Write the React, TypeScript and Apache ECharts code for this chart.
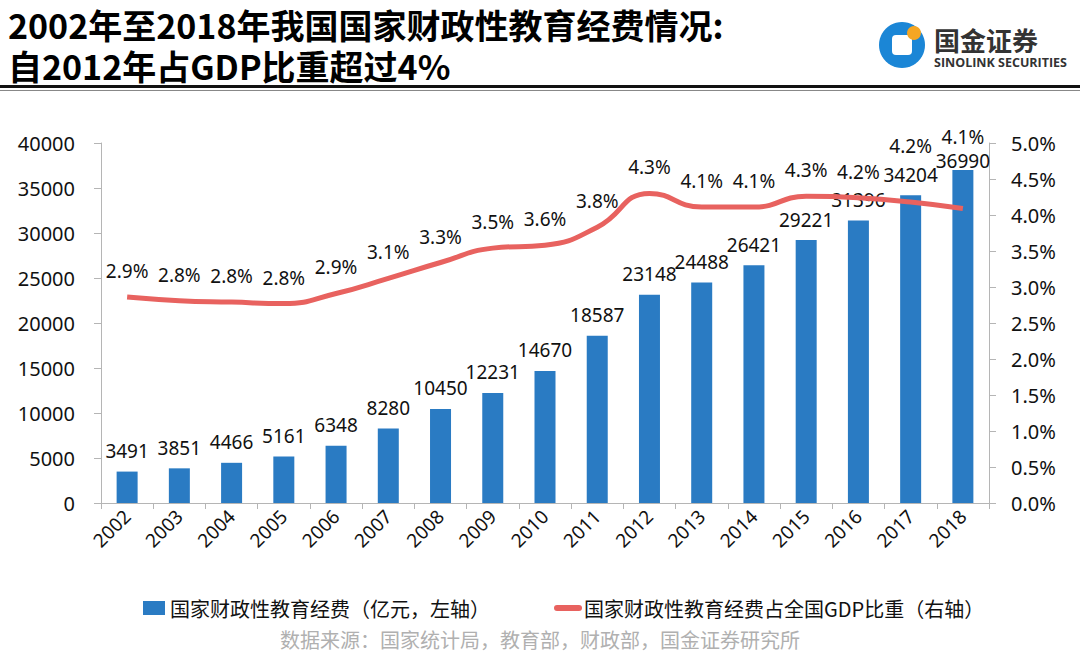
import React, { useEffect, useRef } from "react";
import * as echarts from "echarts";

const years = ["2002","2003","2004","2005","2006","2007","2008","2009","2010","2011","2012","2013","2014","2015","2016","2017","2018"];
const spending = [3491,3851,4466,5161,6348,8280,10450,12231,14670,18587,23148,24488,26421,29221,31396,34204,36990];
const gdpShare = [2.86,2.81,2.79,2.77,2.91,3.12,3.34,3.54,3.58,3.83,4.30,4.11,4.11,4.26,4.24,4.18,4.09];
const leftTicks = { min: 0, max: 40000, interval: 5000 };
const rightTicks = { min: 0, max: 5, interval: 0.5 };
const barName = "国家财政性教育经费（亿元，左轴）";
const lineName = "国家财政性教育经费占全国GDP比重（右轴）";
const titleLines = ["2002年至2018年我国国家财政性教育经费情况:", "自2012年占GDP比重超过4%"];
const sourceText = "数据来源：国家统计局，教育部，财政部，国金证券研究所";

const FONT = "'Noto Sans', 'Noto Sans CJK SC', sans-serif";
const CJK = "'Noto Sans CJK SC', sans-serif";
const BLUE = "#2a7bc3";
const RED = "#e8625f";

export default function App() {
  const ref = useRef<HTMLDivElement>(null);
  useEffect(() => {
    if (!ref.current) return;
    const chart = echarts.init(ref.current, undefined, { renderer: "svg" });
    const lineDist = years.map((_, i) => (i === 15 ? 46 : i === 16 ? 62 : 16));
    const barDist = years.map((_, i) => (i === 16 ? 0 : 11));
    chart.setOption({
      animation: false,
      backgroundColor: "#fff",
      grid: { left: 101, right: 91, top: 143, bottom: 168 },
      legend: {
        left: 138,
        top: 593,
        itemGap: 64,
        itemWidth: 22,
        itemHeight: 14,
        textStyle: { fontFamily: CJK, fontSize: 20, color: "#111" },
        data: [
          { name: barName, icon: "rect", itemStyle: { color: BLUE } },
          { name: lineName, itemStyle: { opacity: 0 }, lineStyle: { color: RED, width: 6, cap: "round" } },
        ],
      },
      xAxis: {
        type: "category",
        data: years,
        boundaryGap: true,
        axisLine: { lineStyle: { color: "#b5b5b5", width: 1 } },
        axisTick: { show: true, length: 6, lineStyle: { color: "#b5b5b5" } },
        axisLabel: { rotate: 45, fontSize: 19, color: "#111", fontFamily: FONT, margin: 10 },
      },
      yAxis: [
        {
          type: "value",
          ...leftTicks,
          axisLine: { show: true, lineStyle: { color: "#b5b5b5" } },
          axisTick: { show: true, length: 7, lineStyle: { color: "#b5b5b5" } },
          splitLine: { show: false },
          axisLabel: { fontSize: 20, color: "#111", fontFamily: FONT, margin: 26, formatter: (v: number) => String(v) },
        },
        {
          type: "value",
          ...rightTicks,
          position: "right",
          axisLine: { show: true, lineStyle: { color: "#b5b5b5" } },
          axisTick: { show: true, length: 7, lineStyle: { color: "#b5b5b5" } },
          splitLine: { show: false },
          axisLabel: { fontSize: 20, color: "#111", fontFamily: FONT, margin: 22, formatter: (v: number) => v.toFixed(1) + "%" },
        },
      ],
      series: [
        {
          name: barName,
          type: "bar",
          yAxisIndex: 0,
          barWidth: 21,
          itemStyle: { color: BLUE },
          data: spending.map((v, i) => ({
            value: v,
            label: { show: true, position: "top", distance: barDist[i], fontSize: 19, color: "#111", fontFamily: FONT },
          })),
          z: 2,
        },
        {
          name: lineName,
          type: "line",
          yAxisIndex: 1,
          smooth: true,
          symbol: "circle",
          symbolSize: 1,
          showSymbol: true,
          lineStyle: { color: RED, width: 5 },
          itemStyle: { color: "rgba(0,0,0,0)" },
          data: gdpShare.map((v, i) => ({
            value: v,
            label: {
              show: true,
              position: "top",
              distance: lineDist[i],
              fontSize: 19,
              color: "#111",
              fontFamily: FONT,
              formatter: (p: any) => Number(p.value).toFixed(1) + "%",
            },
          })),
          z: 3,
        },
      ],
      graphic: [
        { type: "text", left: 8, top: 6, style: { text: titleLines[0], fontSize: 34, lineHeight: 36, fontWeight: "bold", fontFamily: CJK, fill: "#000" } },
        { type: "text", left: 8, top: 47, style: { text: titleLines[1], fontSize: 34, lineHeight: 36, fontWeight: "bold", fontFamily: CJK, fill: "#000" } },
        { type: "rect", shape: { x: 0, y: 85, width: 1080, height: 3 }, style: { fill: "#111" } },
        { type: "rect", shape: { x: 0, y: 90, width: 1080, height: 1 }, style: { fill: "#888" } },
        { type: "circle", shape: { cx: 902, cy: 45, r: 23 }, style: { fill: "#1b86d6" } },
        { type: "rect", shape: { x: 892, y: 35, width: 20, height: 20, r: 4 }, style: { fill: "#fff" } },
        { type: "circle", shape: { cx: 914, cy: 33, r: 7 }, style: { fill: "#f5a623" } },
        { type: "text", left: 934, top: 26, style: { text: "国金证券", fontSize: 26, lineHeight: 26, fontWeight: "bold", fontFamily: CJK, fill: "#333" } },
        { type: "text", left: 934, top: 56, style: { text: "SINOLINK SECURITIES", fontSize: 12.5, lineHeight: 12, fontWeight: "bold", fontFamily: "'Open Sans', sans-serif", fill: "#333" } },
        { type: "text", left: "center", top: 629, style: { text: sourceText, fontSize: 20, fontFamily: CJK, fill: "#b0b0b0" } },
      ],
    });
    return () => chart.dispose();
  }, []);
  return <div ref={ref} style={{ width: 1080, height: 671, position: "absolute", left: 0, top: 0 }} />;
}
